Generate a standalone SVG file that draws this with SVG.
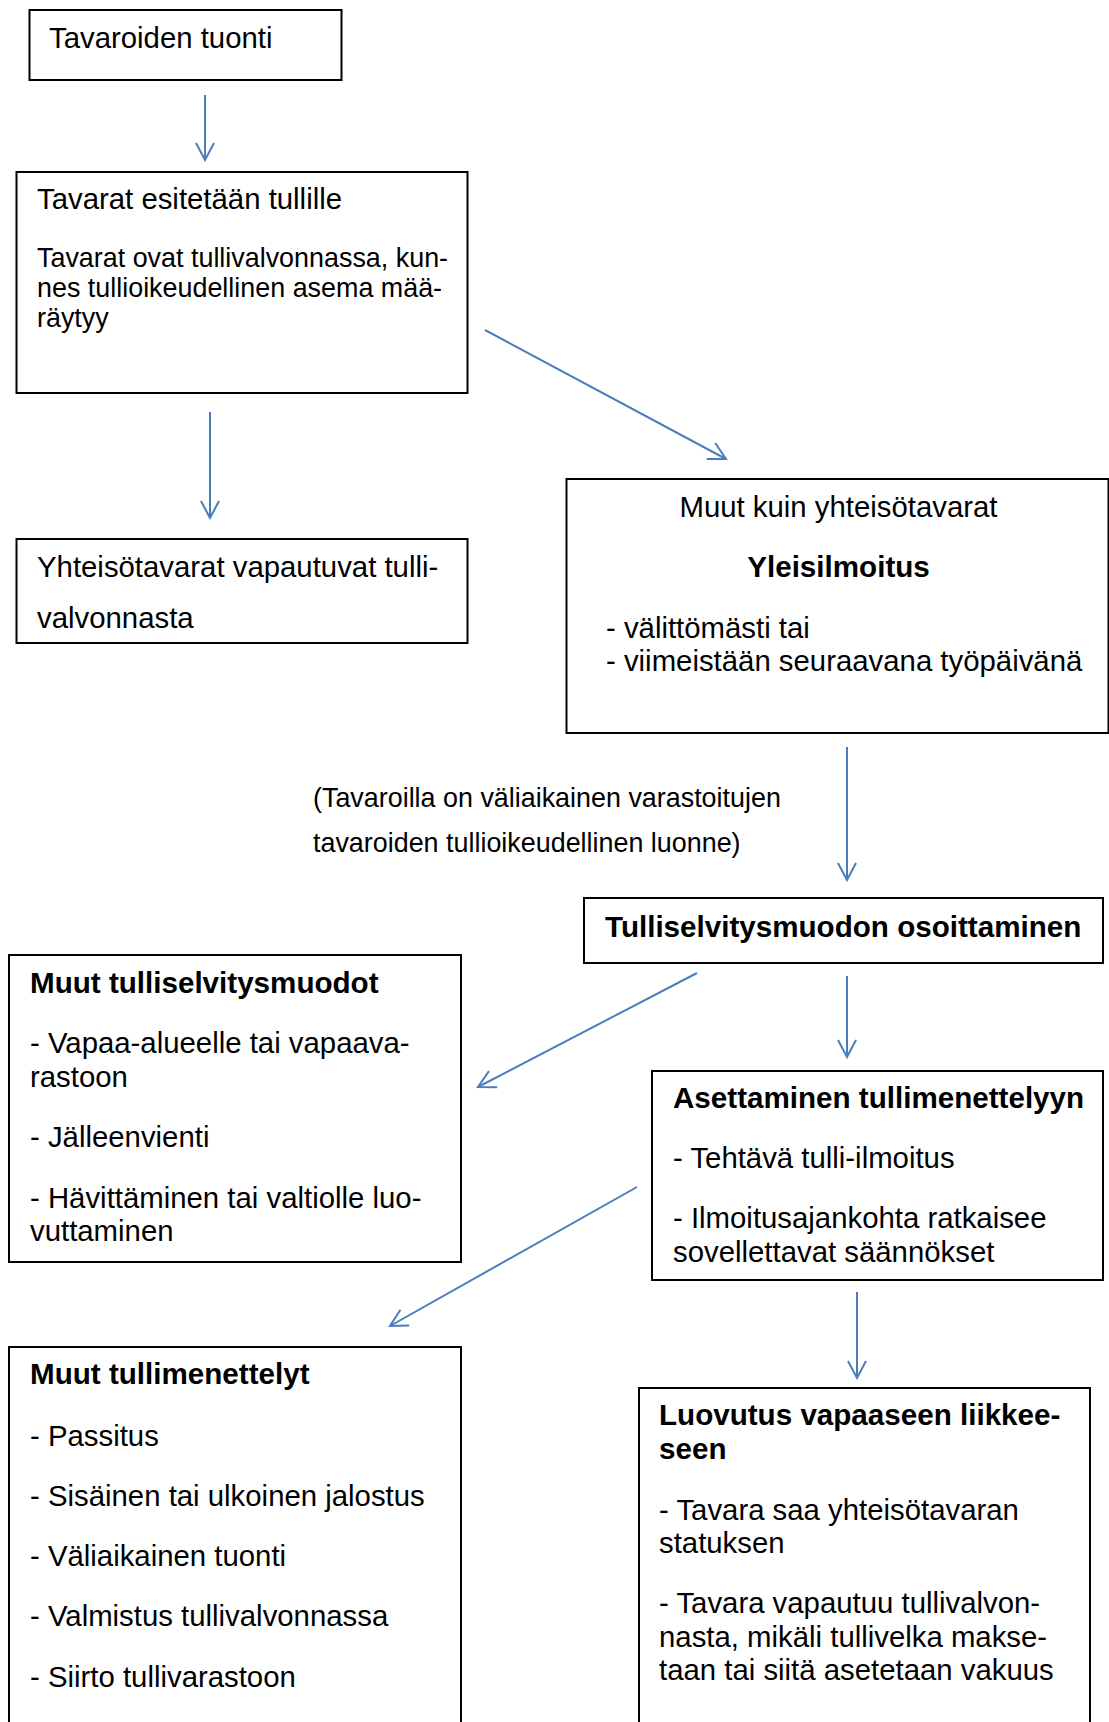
<svg xmlns="http://www.w3.org/2000/svg" width="1109" height="1722" viewBox="0 0 1109 1722">
<style>
text{font-family:"Liberation Sans",Arial,sans-serif;font-size:29.35px;fill:#000}
.b{font-weight:bold;font-size:29.6px}
.s{font-size:26.9px}
.box{fill:#fff;stroke:#000;stroke-width:2}
.c{fill:none;stroke:#4a7ebb;stroke-width:2;marker-end:url(#ah)}
</style>
<defs>
<marker id="ah" viewBox="0 0 20 20" refX="18" refY="10" markerWidth="20" markerHeight="20" markerUnits="userSpaceOnUse" orient="auto">
<path d="M1,1 L18,10 L1,19" fill="none" stroke="#4a7ebb" stroke-width="2"/>
</marker>
</defs>
<rect width="1109" height="1722" fill="#fff"/>
<g id="connectors">
<line class="c" x1="205" y1="95" x2="205" y2="160"/>
<line class="c" x1="210" y1="412" x2="210" y2="518"/>
<line class="c" x1="485" y1="330" x2="726" y2="459"/>
<line class="c" x1="847" y1="747" x2="847" y2="880"/>
<line class="c" x1="847" y1="976" x2="847" y2="1057"/>
<line class="c" x1="697" y1="973" x2="478" y2="1087"/>
<line class="c" x1="637" y1="1187" x2="390" y2="1326"/>
<line class="c" x1="857" y1="1292" x2="857" y2="1378"/>
</g>
<g id="n1">
<rect class="box" x="29.5" y="10" width="312" height="70"/>
<text x="49" y="48">Tavaroiden tuonti</text>
</g>
<g id="n2">
<rect class="box" x="16.5" y="172" width="451" height="221"/>
<text x="37" y="209">Tavarat esitetään tullille</text>
<text class="s" x="37" y="267">Tavarat ovat tullivalvonnassa, kun-</text>
<text class="s" x="37" y="297">nes tullioikeudellinen asema mää-</text>
<text class="s" x="37" y="327">räytyy</text>
</g>
<g id="n3">
<rect class="box" x="16.5" y="539" width="451" height="104"/>
<text x="37" y="577">Yhteisötavarat vapautuvat tulli-</text>
<text x="37" y="628">valvonnasta</text>
</g>
<g id="n4">
<rect class="box" x="566.5" y="479" width="542" height="254"/>
<text x="838.5" y="517" text-anchor="middle">Muut kuin yhteisötavarat</text>
<text class="b" x="838.5" y="577" text-anchor="middle">Yleisilmoitus</text>
<text x="606" y="638">- välittömästi tai</text>
<text x="606" y="671">- viimeistään seuraavana työpäivänä</text>
</g>
<g id="note">
<text class="s" x="313" y="807">(Tavaroilla on väliaikainen varastoitujen</text>
<text class="s" x="313" y="852">tavaroiden tullioikeudellinen luonne)</text>
</g>
<g id="n5">
<rect class="box" x="584" y="898" width="519" height="65"/>
<text class="b" x="605" y="937">Tulliselvitysmuodon osoittaminen</text>
</g>
<g id="n6">
<rect class="box" x="9" y="955" width="452" height="307"/>
<text class="b" x="30" y="993">Muut tulliselvitysmuodot</text>
<text x="30" y="1053">- Vapaa-alueelle tai vapaava-</text>
<text x="30" y="1087">rastoon</text>
<text x="30" y="1147">- Jälleenvienti</text>
<text x="30" y="1208">- Hävittäminen tai valtiolle luo-</text>
<text x="30" y="1241">vuttaminen</text>
</g>
<g id="n7">
<rect class="box" x="652" y="1071" width="451" height="209"/>
<text class="b" x="673" y="1108">Asettaminen tullimenettelyyn</text>
<text x="673" y="1168">- Tehtävä tulli-ilmoitus</text>
<text x="673" y="1228">- Ilmoitusajankohta ratkaisee</text>
<text x="673" y="1262">sovellettavat säännökset</text>
</g>
<g id="n8">
<rect class="box" x="9" y="1347" width="452" height="400"/>
<text class="b" x="30" y="1384">Muut tullimenettelyt</text>
<text x="30" y="1446">- Passitus</text>
<text x="30" y="1506">- Sisäinen tai ulkoinen jalostus</text>
<text x="30" y="1566">- Väliaikainen tuonti</text>
<text x="30" y="1626">- Valmistus tullivalvonnassa</text>
<text x="30" y="1687">- Siirto tullivarastoon</text>
</g>
<g id="n9">
<rect class="box" x="639" y="1388" width="451" height="360"/>
<text class="b" x="659" y="1425">Luovutus vapaaseen liikkee-</text>
<text class="b" x="659" y="1459">seen</text>
<text x="659" y="1520">- Tavara saa yhteisötavaran</text>
<text x="659" y="1553">statuksen</text>
<text x="659" y="1613">- Tavara vapautuu tullivalvon-</text>
<text x="659" y="1647">nasta, mikäli tullivelka makse-</text>
<text x="659" y="1680">taan tai siitä asetetaan vakuus</text>
</g>
</svg>
